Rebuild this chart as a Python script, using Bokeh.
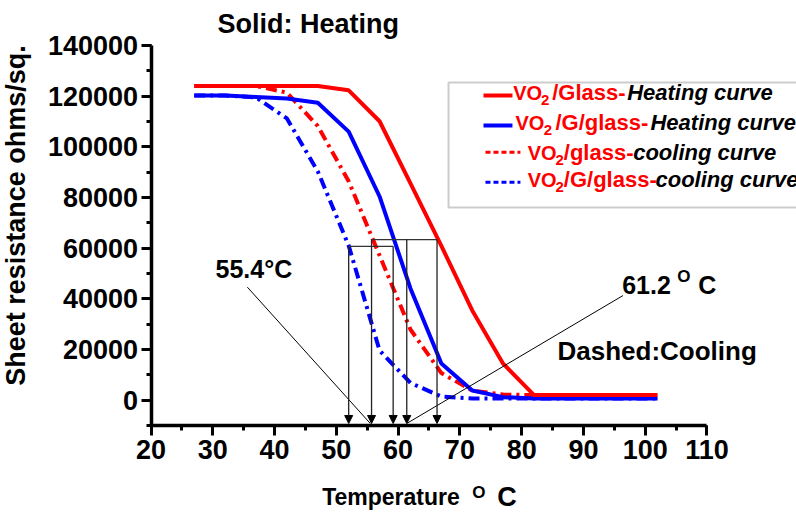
from math import pi
from bokeh.plotting import figure
from bokeh.models import (Range1d, SingleIntervalTicker, BasicTickFormatter, Label,
                          Arrow, NormalHead, BoxAnnotation)
from bokeh.embed import file_html
from bokeh.resources import INLINE

# ---------------- data ----------------
temperature = [27, 32, 37, 42, 47, 52, 57, 62, 67, 72, 77, 82, 87, 92, 97, 102]
vo2_glass_heating = [124000, 124000, 124000, 124000, 124000, 122300, 110100, 85600,
                     60900, 35400, 14400, 2000, 2000, 2000, 2000, 2000]
vo2_g_glass_heating = [120300, 120300, 119700, 119100, 117400, 106000, 80400, 44100,
                       14500, 3800, 1200, 700, 700, 700, 700, 700]
vo2_glass_cooling = [124000, 124000, 124000, 121400, 108200, 86400, 57100, 27900,
                     10700, 3800, 2200, 2000, 2000, 2000, 2000, 2000]
vo2_g_glass_cooling = [120300, 120300, 119500, 111200, 90300, 61000, 19600, 6800,
                       1400, 700, 700, 700, 700, 700, 700, 700]

# transition markers (temperature, resistance level)
trans_T = [52.0, 55.7, 59.2, 61.4, 66.3]
trans_R = [60700, 63400, 60700, 63400, 63400]

x_bounds = (20, 110)
y_bounds = (-10000, 140000)

RED = "#FF0000"
BLUE = "#0000FF"
FONT = "Liberation Sans"

# data units per screen pixel (frame covers the whole canvas)
X_PER_PX = 1 / 6.17778
Y_PER_PX = 394.74

p = figure(width=796, height=512, output_backend="svg", toolbar_location=None,
           title=None, x_range=Range1d(-4.362, 124.488),
           y_range=Range1d(-44342, 157763),
           min_border_left=0, min_border_right=0, min_border_top=0,
           min_border_bottom=0)
p.grid.visible = False
p.outline_line_color = None
p.background_fill_color = "white"
p.border_fill_color = "white"

p.xaxis.ticker = SingleIntervalTicker(interval=10, num_minor_ticks=2)
p.yaxis.ticker = SingleIntervalTicker(interval=20000, num_minor_ticks=2)
p.yaxis.formatter = BasicTickFormatter(use_scientific=False)
p.xaxis.bounds = x_bounds
p.yaxis.bounds = y_bounds
p.xaxis.fixed_location = y_bounds[0]
p.yaxis.fixed_location = x_bounds[0]
for ax in (p.xaxis[0], p.yaxis[0]):
    ax.axis_line_width = 3.5
    ax.axis_line_color = "black"
    ax.major_tick_line_width = 3
    ax.minor_tick_line_width = 3
    ax.major_tick_line_color = "black"
    ax.minor_tick_line_color = "black"
    ax.major_tick_out = 10
    ax.major_tick_in = 0
    ax.minor_tick_out = 5
    ax.minor_tick_in = 0
    ax.major_label_text_font = FONT
    ax.major_label_text_font_style = "bold"
    ax.major_label_text_font_size = "27px"
    ax.major_label_text_color = "black"
p.xaxis.major_label_standoff = 4
p.yaxis.major_label_standoff = 3

# ---------------- curves ----------------
p.line(temperature, vo2_g_glass_cooling, line_color=BLUE, line_width=4,
       line_dash="11 5 3 5")
p.line(temperature, vo2_glass_cooling, line_color=RED, line_width=4,
       line_dash="11 5 3 5")
p.line(temperature, vo2_g_glass_heating, line_color=BLUE, line_width=4)
p.line(temperature, vo2_glass_heating, line_color=RED, line_width=4)

# ---------------- transition markers ----------------
levels = sorted(set(trans_R))
hx0, hx1, hy = [], [], []
for lv in levels:
    ts = [t for t, r in zip(trans_T, trans_R) if r == lv]
    hx0.append(min(ts)); hx1.append(max(ts)); hy.append(lv)
p.segment(x0=hx0, y0=hy, x1=hx1, y1=hy, line_color="#333333", line_width=1.3)
for t, r in zip(trans_T, trans_R):
    p.add_layout(Arrow(end=NormalHead(size=8, fill_color="black", line_color="black",
                                      line_width=1),
                       x_start=t, y_start=r, x_end=t, y_end=-9200,
                       line_color="#222222", line_width=1.3))

# leader lines from labels
p.segment(x0=[35.6, 96.4], y0=[44600, 41300], x1=[55.5, 61.4], y1=[-9200, -9200],
          line_color="black", line_width=1)


def txt(x, y, s, size, color="black", style="bold", angle=0.0, align="left"):
    # (x, y) is the intended baseline anchor; compensate the label's vertical offset
    shift = 0.35 * size
    if angle:
        x = x - shift * X_PER_PX
    else:
        y = y + shift * Y_PER_PX
    p.add_layout(Label(x=x, y=y, text=s, text_font=FONT, text_font_size=f"{size}px",
                       text_font_style=style, text_color=color, angle=angle,
                       text_align=align, text_baseline="alphabetic"))


# ---------------- texts ----------------
txt(30.76, 144620, "Solid: Heating", 27)
txt(30.44, 48420, "55.4°C", 25)
txt(96.27, 41990, "61.2", 25)
txt(105.2, 46570, "O", 17)
txt(108.6, 41990, "C", 25)
txt(85.8, 15658, "Dashed:Cooling", 26)

txt(47.71, -41579, "Temperature", 23)
txt(71.99, -38930, "O", 17)
txt(76.04, -41973, "C", 27)

txt(-0.3, 72895, "Sheet resistance ohms/sq.", 27, angle=pi / 2, align="center")

# ---------------- legend ----------------
p.add_layout(BoxAnnotation(left=68.16, right=140, top=125400, bottom=76050,
                           fill_alpha=0, line_color="#555555", line_width=2))

p.segment(x0=[73.82, 73.82], y0=[120264, 108422], x1=[78.51, 78.51],
          y1=[120264, 108422], line_color=[RED, BLUE], line_width=4)
p.segment(x0=[74.14, 74.14], y0=[97882, 86040], x1=[79.80, 79.80],
          y1=[97882, 86040], line_color=[RED, BLUE], line_width=3, line_dash="5 3")

rows = [
    # (VO x, sub x, rest x, italic x, baseline, sub baseline, rest, italic)
    (78.63, 83.13, 84.94, 97.08, 118290, 116316, "/Glass-", "Heating curve"),
    (79.00, 83.58, 85.47, 100.85, 106448, 104475, "/G/glass-", "Heating curve"),
    (80.99, 85.47, 86.82, 98.05, 94606, 92632, "/glass-", "cooling curve"),
    (80.99, 85.47, 86.82, 101.66, 83948, 81974, "/G/glass-", "cooling curve"),
]
for vx, sx, rx, ix, by, sy, rest, ital in rows:
    txt(vx, by, "VO", 20, color=RED)
    txt(sx, sy, "2", 15, color=RED)
    txt(rx, by, rest, 22, color=RED)
    txt(ix, by, ital, 22, color="black", style="bold italic")

open("out.html", "w").write(file_html(p, INLINE))
